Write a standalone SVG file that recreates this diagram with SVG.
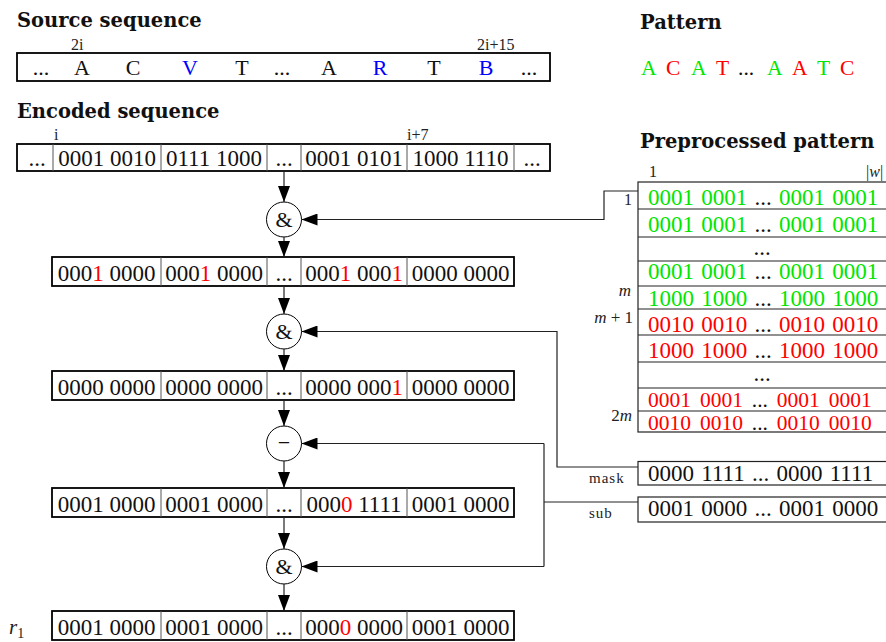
<svg xmlns="http://www.w3.org/2000/svg" width="886" height="642" viewBox="0 0 886 642">
<style>
.ttl{font-family:"DejaVu Serif",serif;font-weight:bold;font-size:19.5px;fill:#111}
.t{font-family:"Liberation Serif",serif;font-size:23px;fill:#111}
.m{text-anchor:middle}
.s{font-family:"Liberation Serif",serif;font-size:16px;fill:#222}
.sm{font-family:"Liberation Serif",serif;font-size:15px;letter-spacing:1px;fill:#222}
.it{font-family:"Liberation Serif",serif;font-style:italic;font-size:17px;fill:#222}
.g{fill:#00e600}
.r{fill:#ff0000}
.b{fill:#0000ff}
.box{fill:#fff;stroke:#000;stroke-width:1.8}
.div{stroke:#555;stroke-width:1}
.tl{stroke:#222;stroke-width:1.2;fill:none}
.con{stroke:#222;stroke-width:1.2;fill:none}
.op{fill:#fff;stroke:#000;stroke-width:1}
.tight{font-size:21.5px;word-spacing:3.5px}
</style>
<defs>
<marker id="ah" markerUnits="userSpaceOnUse" markerWidth="17" markerHeight="12" refX="16" refY="6" orient="auto">
<path d="M0,0 L16,6 L0,12 z" fill="#000"/>
</marker>
</defs>

<g id="titles">
<text class="ttl" x="17" y="27">Source sequence</text>
<text class="ttl" x="17" y="118">Encoded sequence</text>
<text class="ttl" x="640" y="29">Pattern</text>
<text class="ttl" x="640" y="148">Preprocessed pattern</text>
</g>

<g id="source">
<rect class="box" x="17" y="53" width="533" height="28"/>
<text class="s" x="71" y="50">2i</text>
<text class="s" x="477" y="50">2i+15</text>
<g class="t m" style="font-size:22px">
<text x="41" y="75">...</text>
<text x="82" y="75">A</text>
<text x="133" y="75">C</text>
<text x="190" y="75" class="b">V</text>
<text x="242" y="75">T</text>
<text x="282" y="75">...</text>
<text x="329" y="75">A</text>
<text x="380" y="75" class="b">R</text>
<text x="434" y="75">T</text>
<text x="486" y="75" class="b">B</text>
<text x="529" y="75">...</text>
</g>
</g>

<g id="pattern" class="t" style="font-size:21.5px">
<text x="641" y="75" class="g">A</text>
<text x="666" y="75" class="r">C</text>
<text x="691" y="75" class="g">A</text>
<text x="716" y="75" class="r">T</text>
<text x="738" y="75">...</text>
<text x="767" y="75" class="g">A</text>
<text x="792" y="75" class="r">A</text>
<text x="817" y="75" class="g">T</text>
<text x="840" y="75" class="r">C</text>
</g>

<g id="encoded">
<rect class="box" x="17" y="144" width="533" height="27"/>
<path class="div" d="M53,144V171M161,144V171M267,144V171M301,144V171M407,144V171M514,144V171"/>
<text class="s" x="54" y="140">i</text>
<text class="s" x="407" y="140">i+7</text>
<g class="t m">
<text x="37" y="166">...</text>
<text x="107" y="166">0001 0010</text>
<text x="214" y="166">0111 1000</text>
<text x="284" y="166">...</text>
<text x="354" y="166">0001 0101</text>
<text x="460.5" y="166">1000 1110</text>
<text x="532" y="166">...</text>
</g>
</g>

<g id="op1">
<circle class="op" cx="284" cy="219.5" r="17.5"/>
<text class="t m" x="284" y="227" style="font-size:22px">&amp;</text>
</g>

<g id="row2">
<rect class="box" x="52" y="257" width="462" height="29"/>
<path class="div" d="M161,257V286M267,257V286M301,257V286M407,257V286"/>
<g class="t m">
<text x="106.5" y="281">000<tspan class="r">1</tspan> 0000</text>
<text x="214" y="281">000<tspan class="r">1</tspan> 0000</text>
<text x="284" y="281">...</text>
<text x="354" y="281">000<tspan class="r">1</tspan> 000<tspan class="r">1</tspan></text>
<text x="460.5" y="281">0000 0000</text>
</g>
</g>

<g id="op2">
<circle class="op" cx="284" cy="331.5" r="17.5"/>
<text class="t m" x="284" y="339" style="font-size:22px">&amp;</text>
</g>

<g id="row3">
<rect class="box" x="52" y="371" width="462" height="29"/>
<path class="div" d="M161,371V400M267,371V400M301,371V400M407,371V400"/>
<g class="t m">
<text x="106.5" y="395">0000 0000</text>
<text x="214" y="395">0000 0000</text>
<text x="284" y="395">...</text>
<text x="354" y="395">0000 000<tspan class="r">1</tspan></text>
<text x="460.5" y="395">0000 0000</text>
</g>
</g>

<g id="op3">
<circle class="op" cx="284" cy="443.5" r="17.5"/>
<text class="t m" x="284" y="450" style="font-size:22px">−</text>
</g>

<g id="row4">
<rect class="box" x="52" y="488" width="462" height="29"/>
<path class="div" d="M161,488V517M267,488V517M301,488V517M407,488V517"/>
<g class="t m">
<text x="106.5" y="512">0001 0000</text>
<text x="214" y="512">0001 0000</text>
<text x="284" y="512">...</text>
<text x="354" y="512">000<tspan class="r">0</tspan> 1111</text>
<text x="460.5" y="512">0001 0000</text>
</g>
</g>

<g id="op4">
<circle class="op" cx="284" cy="566.5" r="17.5"/>
<text class="t m" x="284" y="574" style="font-size:22px">&amp;</text>
</g>

<g id="row5">
<text x="9" y="634" style="font-family:'Liberation Serif',serif;font-style:italic;font-size:21px;fill:#222">r<tspan dy="4" style="font-style:normal;font-size:14px">1</tspan></text>
<rect class="box" x="52" y="611" width="462" height="29"/>
<path class="div" d="M161,611V640M267,611V640M301,611V640M407,611V640"/>
<g class="t m">
<text x="106.5" y="635">0001 0000</text>
<text x="214" y="635">0001 0000</text>
<text x="284" y="635">...</text>
<text x="354" y="635">000<tspan class="r">0</tspan> 0000</text>
<text x="460.5" y="635">0001 0000</text>
</g>
</g>

<g id="table">
<rect x="638" y="182" width="260" height="250" fill="#fff" class="tl"/>
<path class="tl" d="M638,209H886M638,237H886M638,261H886M638,286H886M638,309H886M638,335H886M638,362H886M638,388H886M638,411H886"/>
<text class="s" x="649" y="177">1</text>
<text class="s" x="866" y="177">|<tspan style="font-style:italic">w</tspan>|</text>
<text class="s" x="632" y="205" style="text-anchor:end">1</text>
<text class="it" x="631" y="296" style="text-anchor:end">m</text>
<text class="it" x="633" y="323" style="text-anchor:end">m <tspan style="font-style:normal">+ 1</tspan></text>
<text class="it" x="632" y="421" style="text-anchor:end"><tspan style="font-style:normal">2</tspan>m</text>
<g class="t" style="word-spacing:1.5px">
<text x="648" y="205"><tspan class="g">0001 0001</tspan> ... <tspan class="g">0001 0001</tspan></text>
<text x="648" y="232"><tspan class="g">0001 0001</tspan> ... <tspan class="g">0001 0001</tspan></text>
<text x="762" y="255" class="m">...</text>
<text x="648" y="279"><tspan class="g">0001 0001</tspan> ... <tspan class="g">0001 0001</tspan></text>
<text x="648" y="306"><tspan class="g">1000 1000</tspan> ... <tspan class="g">1000 1000</tspan></text>
<text x="648" y="332"><tspan class="r">0010 0010</tspan> ... <tspan class="r">0010 0010</tspan></text>
<text x="648" y="358"><tspan class="r">1000 1000</tspan> ... <tspan class="r">1000 1000</tspan></text>
<text x="762" y="381" class="m">...</text>
<text x="648" y="407" class="tight"><tspan class="r">0001 0001</tspan> ... <tspan class="r">0001 0001</tspan></text>
<text x="648" y="430" class="tight"><tspan class="r">0010 0010</tspan> ... <tspan class="r">0010 0010</tspan></text>
</g>
</g>

<g id="mask">
<rect x="638" y="461.5" width="260" height="23.5" fill="#fff" class="tl"/>
<text class="sm" x="589" y="483">mask</text>
<text class="t" x="648" y="481" style="word-spacing:1.5px">0000 1111 ... 0000 1111</text>
</g>

<g id="sub">
<rect x="638" y="497" width="260" height="25" fill="#fff" class="tl"/>
<text class="sm" x="589" y="518">sub</text>
<text class="t" x="648" y="516" style="word-spacing:1.5px">0001 0000 ... 0001 0000</text>
</g>

<g id="connectors">
<path class="con" d="M284,171V202" marker-end="url(#ah)"/>
<path class="con" d="M284,237V257" marker-end="url(#ah)"/>
<path class="con" d="M284,286V314" marker-end="url(#ah)"/>
<path class="con" d="M284,349V371" marker-end="url(#ah)"/>
<path class="con" d="M284,400V426" marker-end="url(#ah)"/>
<path class="con" d="M284,461V488" marker-end="url(#ah)"/>
<path class="con" d="M284,517V549" marker-end="url(#ah)"/>
<path class="con" d="M284,584V611" marker-end="url(#ah)"/>
<path class="con" d="M638,191H604V219.5H301.5" marker-end="url(#ah)"/>
<path class="con" d="M638,467H557V331.5H301.5" marker-end="url(#ah)"/>
<path class="con" d="M638,502H544"/>
<path class="con" d="M544,443.5V566.5"/>
<path class="con" d="M544,443.5H301.5" marker-end="url(#ah)"/>
<path class="con" d="M544,566.5H301.5" marker-end="url(#ah)"/>
</g>
</svg>
